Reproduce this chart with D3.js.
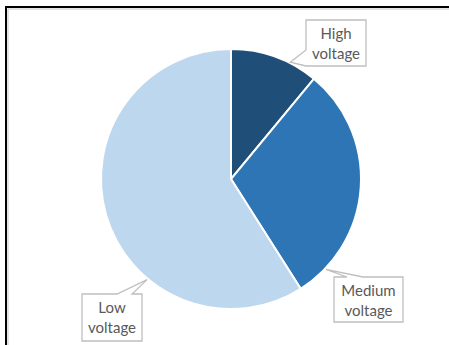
<!DOCTYPE html>
<html>
  <head>
    <meta charset="utf-8">
    <title>Voltage share</title>
    <script src="https://d3js.org/d3.v7.min.js"></script>
    <style>
      body { margin: 0; background: #fff; }
      svg { display: block; }
      .lbl { font-family: Lato, "Noto Sans", sans-serif; font-size: 15px; fill: #595959; }
    </style>
  </head>
  <body>
    <div id="chart"></div>
    <script>
      // data
      const categories = ["High voltage", "Medium voltage", "Low voltage"];
      const shares = [11, 30, 59];
      const colours = ["#1f4e79", "#2e75b6", "#bdd7ee"];

      const width = 449, height = 345;
      const cx = 231, cy = 179, radius = 130;

      const svg = d3.select("#chart").append("svg")
        .attr("width", width)
        .attr("height", height);

      // outer frame (only top and left edges are in view)
      svg.append("path")
        .attr("d", "M6,345 V7 H449")
        .attr("fill", "none")
        .attr("stroke", "#000")
        .attr("stroke-width", 2);
      svg.append("path")
        .attr("d", "M8,345 V9 H449")
        .attr("fill", "none")
        .attr("stroke", "#c8c8c8")
        .attr("stroke-width", 1);

      const pie = d3.pie().sort(null).value(function(d) { return d; });
      const arc = d3.arc().innerRadius(0).outerRadius(radius);
      const arcs = pie(shares);

      const g = svg.append("g").attr("transform", "translate(" + cx + "," + cy + ")");
      g.selectAll(".slice")
          .data(arcs)
        .enter().append("path")
          .classed("slice", true)
          .attr("d", arc)
          .attr("fill", function(d, i) { return colours[i]; })
          .attr("stroke", "#fff")
          .attr("stroke-width", 2);

      // callout boxes: [left, top, width, height], where the pointer leaves the box,
      // and how far along the slice the pointer tip lands
      const boxes = [
        { box: [306, 20, 60, 46], side: "left", base: [30, 46], along: 0.68 },
        { box: [334, 277, 69, 45], side: "top", base: [347, 363], along: 0.87 },
        { box: [82, 294, 60, 47], side: "top", base: [117, 132], along: 0.34 }
      ];

      arcs.forEach(function(a, i) {
        const b = boxes[i];
        const [x, y, w, h] = b.box;
        const tipAngle = a.startAngle + (a.endAngle - a.startAngle) * b.along;
        const tx = cx + (radius + 1) * Math.sin(tipAngle);
        const ty = cy - (radius + 1) * Math.cos(tipAngle);
        let d;
        if (b.side === "left") {
          d = "M" + x + "," + y + " H" + (x + w) + " V" + (y + h) + " H" + x +
              " V" + (y + b.base[1]) + " L" + tx + "," + ty + " L" + x + "," + (y + b.base[0]) + " Z";
        } else {
          d = "M" + x + "," + y + " H" + b.base[0] + " L" + tx + "," + ty + " L" + b.base[1] + "," + y +
              " H" + (x + w) + " V" + (y + h) + " H" + x + " Z";
        }
        svg.append("path")
          .attr("d", d)
          .attr("fill", "#fff")
          .attr("stroke", "#bfbfbf")
          .attr("stroke-width", 1.3);
        const words = categories[i].split(" ");
        const t = svg.append("text")
          .attr("class", "lbl")
          .attr("text-anchor", "middle");
        words.forEach(function(wd, k) {
          t.append("tspan")
            .attr("x", x + w / 2)
            .attr("y", y + 19 + k * 20)
            .text(wd);
        });
      });
    </script>
  </body>
</html>
